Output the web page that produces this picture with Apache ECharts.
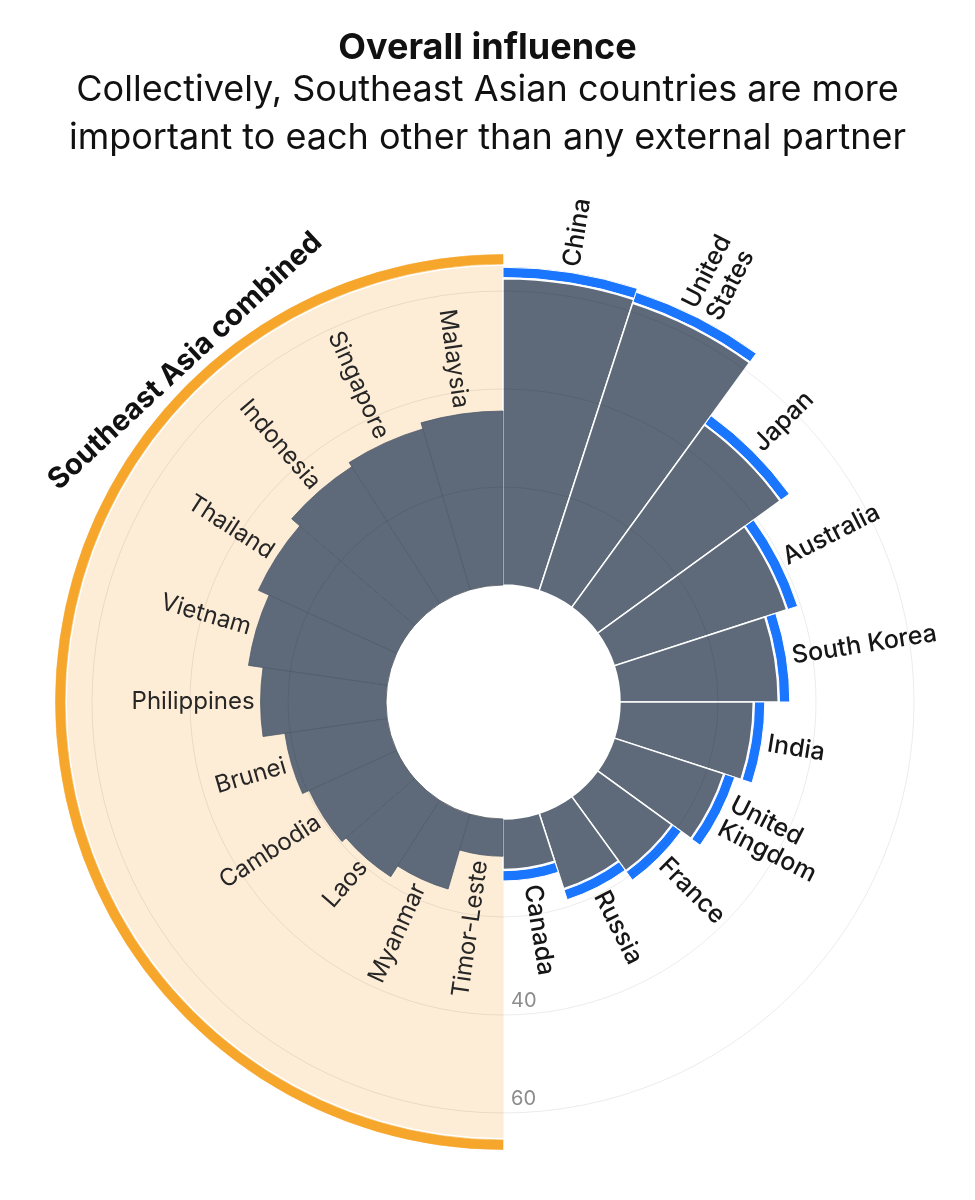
<!DOCTYPE html>
<html>
<head>
<meta charset="utf-8">
<title>Overall influence</title>
<script src="https://cdn.jsdelivr.net/npm/echarts@6/dist/echarts.min.js"></script>
<style>
html, body { margin: 0; padding: 0; background: #fff; }
#chart { width: 975px; height: 1200px; }
</style>
</head>
<body>
<div id="chart"></div>
<script>
// external partners, clockwise from the top
var partnerCats = ['China', 'United\nStates', 'Japan', 'Australia', 'South Korea', 'India', 'United\nKingdom', 'France', 'Russia', 'Canada'];
var partnerValues = [62.5, 61.7, 46.0, 37.0, 32.3, 27.2, 23.5, 18.7, 16.2, 10.3];

// southeast asia, counter-clockwise from the top
var seaCats = ['Malaysia', 'Singapore', 'Indonesia', 'Thailand', 'Vietnam', 'Philippines', 'Brunei', 'Cambodia', 'Laos', 'Myanmar', 'Timor-Leste'];
var seaValues = [35.5, 34.2, 33.2, 31.0, 28.6, 25.6, 21.1, 19.6, 18.5, 15.9, 7.6];
var seaCombined = 65.0;
var seaCombinedLabel = 'Southeast Asia combined';

var radiusTicks = [40, 60];

// look
var CENTER = [503, 702];
var RADIUS = [117, 460];
var R_MAX = 70;
var GAP = 0.25, CAP = 2.1;         // blue caps
var SEA_GAP = 0.5, SEA_CAP = 1.95; // orange arc
var GRAY = '#5e6a7a', BLUE = '#1a75ff', ORANGE = '#f5a62b', FILL = '#fdecd6';
var GRID = 'rgba(0,0,0,0.08)', NONE = 'rgba(0,0,0,0)';
var FONT = 'Inter, "Noto Sans", sans-serif';

function fill(arr, v) {
	return arr.map(function() { return v; });
}

function radiusAxis(idx) {
	return {
		polarIndex: idx,
		type: 'value',
		min: 0,
		max: R_MAX,
		interval: 20,
		z: 5,
		axisLine: { show: false },
		axisTick: { show: false },
		axisLabel: { show: false },
		splitLine: {
			show: true,
			// circles at 0,20,40,60,70 -> only keep 20/40/60
			lineStyle: { color: [NONE, GRID, GRID, GRID, NONE], width: 1 }
		}
	};
}

// radial text, flipped on the left half so it always reads left to right
function radialLabel(names, size, weight, color, flip) {
	return function(params, api) {
		var cs = params.coordSys;
		var p = api.coord([api.value(0), api.value(1)]);
		var ang = Math.atan2(cs.cy - p[1], p[0] - cs.cx);
		var off = 6;
		return {
			type: 'text',
			x: p[0] + off * Math.cos(ang),
			y: p[1] - off * Math.sin(ang),
			rotation: flip ? ang - Math.PI : ang,
			style: {
				text: names[params.dataIndex],
				fill: color,
				fontFamily: FONT,
				fontSize: size,
				fontWeight: weight,
				lineHeight: size + 2,
				align: flip ? 'right' : 'left',
				verticalAlign: 'middle'
			}
		};
	};
}

var chart = echarts.init(document.getElementById('chart'));

chart.setOption({
	animation: false,
	title: {
		text: 'Overall influence',
		subtext: 'Collectively, Southeast Asian countries are more\nimportant to each other than any external partner',
		left: 'center',
		top: 25,
		itemGap: 0,
		textStyle: { fontFamily: FONT, fontSize: 36, fontWeight: 'bold', color: '#111', lineHeight: 36 },
		subtextStyle: { fontFamily: FONT, fontSize: 36, color: '#111', lineHeight: 48 }
	},
	polar: [
		{ center: CENTER, radius: RADIUS },
		{ center: CENTER, radius: RADIUS },
		{ center: CENTER, radius: RADIUS }
	],
	angleAxis: [
		{ polarIndex: 0, type: 'category', data: partnerCats, startAngle: 90, endAngle: -90, clockwise: true, show: false },
		{ polarIndex: 1, type: 'category', data: seaCats, startAngle: 90, endAngle: 270, clockwise: false, show: false },
		{ polarIndex: 2, type: 'value', min: 0, max: 1, startAngle: 270, show: false }
	],
	radiusAxis: [
		radiusAxis(0),
		radiusAxis(1),
		{
			polarIndex: 2,
			type: 'value',
			min: 0,
			max: R_MAX,
			interval: 20,
			z: 6,
			axisLine: { show: false },
			axisTick: { show: false },
			splitLine: { show: false },
			axisLabel: {
				show: true,
				margin: 8,
				color: '#8c8c8c',
				fontFamily: FONT,
				fontSize: 20,
				align: 'left',
				verticalAlign: 'bottom',
				padding: [0, 0, 4, 0],
				formatter: function(v) { return radiusTicks.indexOf(v) >= 0 ? String(v) : ''; }
			}
		}
	],
	series: [
		// right half: partners
		{
			type: 'bar', coordinateSystem: 'polar', polarIndex: 0, stack: 'partner',
			data: partnerValues, barCategoryGap: '0%', silent: true,
			itemStyle: { color: GRAY, borderColor: '#fff', borderWidth: 1.5 }
		},
		{
			type: 'bar', coordinateSystem: 'polar', polarIndex: 0, stack: 'partner',
			data: fill(partnerValues, GAP), barCategoryGap: '0%', silent: true,
			itemStyle: { color: NONE }
		},
		{
			type: 'bar', coordinateSystem: 'polar', polarIndex: 0, stack: 'partner',
			data: fill(partnerValues, CAP), barCategoryGap: '0%', silent: true,
			itemStyle: { color: BLUE, borderColor: '#fff', borderWidth: 1 }
		},
		// left half: combined background + orange arc
		{
			type: 'bar', coordinateSystem: 'polar', polarIndex: 1, stack: 'sea',
			data: fill(seaValues, seaCombined), barCategoryGap: '0%', barGap: '-100%', silent: true, z: 1,
			itemStyle: { color: FILL, borderColor: FILL, borderWidth: 1 }
		},
		{
			type: 'bar', coordinateSystem: 'polar', polarIndex: 1, stack: 'sea',
			data: fill(seaValues, SEA_GAP), barCategoryGap: '0%', barGap: '-100%', silent: true, z: 1,
			itemStyle: { color: NONE }
		},
		{
			type: 'bar', coordinateSystem: 'polar', polarIndex: 1, stack: 'sea',
			data: fill(seaValues, SEA_CAP), barCategoryGap: '0%', barGap: '-100%', silent: true, z: 1,
			itemStyle: { color: ORANGE, borderColor: ORANGE, borderWidth: 0.6 }
		},
		{
			type: 'bar', coordinateSystem: 'polar', polarIndex: 1,
			data: seaValues, barCategoryGap: '0%', barGap: '-100%', silent: true, z: 3,
			itemStyle: { color: GRAY, borderColor: '#4f5a69', borderWidth: 0.8 }
		},
		// labels
		{
			type: 'custom', coordinateSystem: 'polar', polarIndex: 0, z: 10, silent: true,
			data: partnerValues.map(function(v, i) { return [v + GAP + CAP, i]; }),
			renderItem: radialLabel(partnerCats, 25, 500, '#161616', false)
		},
		{
			type: 'custom', coordinateSystem: 'polar', polarIndex: 1, z: 10, silent: true,
			data: seaValues.map(function(v, i) { return [v, i]; }),
			renderItem: radialLabel(seaCats, 24, 400, '#262626', true)
		},
		{
			type: 'custom', coordinateSystem: 'polar', polarIndex: 1, z: 10, silent: true,
			data: [[seaCombined + SEA_GAP + SEA_CAP, 0]],
			renderItem: function(params, api) {
				var cs = params.coordSys;
				var p = api.coord([api.value(0), api.value(1)]);
				var r = Math.sqrt(Math.pow(p[0] - cs.cx, 2) + Math.pow(p[1] - cs.cy, 2)) + 4;
				var ang = 133 * Math.PI / 180;
				return {
					type: 'text',
					x: cs.cx + r * Math.cos(ang),
					y: cs.cy - r * Math.sin(ang),
					rotation: ang - Math.PI / 2,
					style: {
						text: seaCombinedLabel,
						fill: '#111',
						fontFamily: FONT,
						fontSize: 29,
						fontWeight: 'bold',
						align: 'center',
						verticalAlign: 'bottom'
					}
				};
			}
		}
	]
});
</script>
</body>
</html>
